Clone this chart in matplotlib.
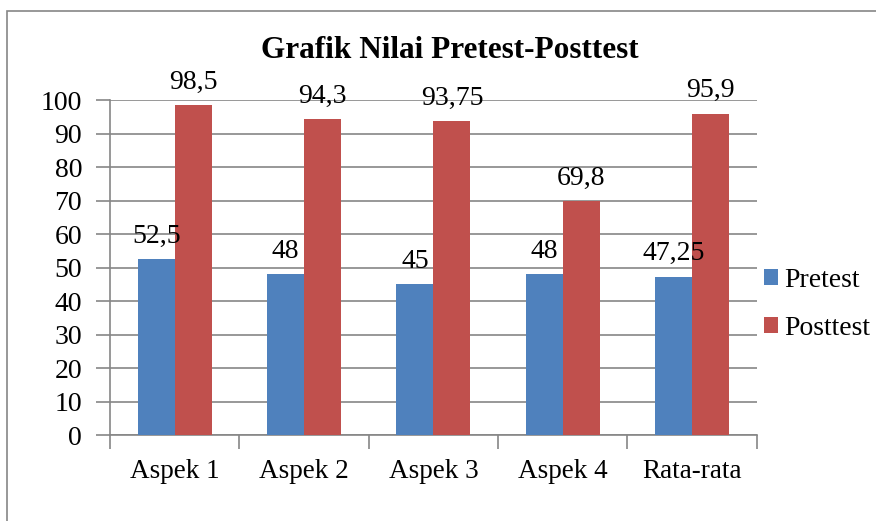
import numpy as np
import matplotlib
import matplotlib.pyplot as plt
from matplotlib import patches

matplotlib.use('Agg')

categories = ['Aspek 1', 'Aspek 2', 'Aspek 3', 'Aspek 4', 'Rata-rata']
pretest = [52.5, 48, 45, 48, 47.25]
posttest = [98.5, 94.3, 93.75, 69.8, 95.9]
series_names = ['Pretest', 'Posttest']

blue = '#4F81BD'
red = '#C0504D'
grid_col = '#868686'

plt.rcParams['font.family'] = ['Liberation Serif', 'DejaVu Serif']


def fmt(v):
    return f"{v:g}".replace('.', ',')


fig = plt.figure(figsize=(8.76, 5.21), dpi=100)
ax = fig.add_axes([0.1256, 0.165, 0.7384, 0.643])

# outer chart border
fig.patches.append(patches.Rectangle((0.008, -0.05), 1.1, 1.029, transform=fig.transFigure,
                                     fill=False, edgecolor=grid_col, linewidth=1.2))

x = np.arange(len(categories))
w = 0.286
b1 = ax.bar(x - w / 2, pretest, w, color=blue, label=series_names[0], zorder=3)
b2 = ax.bar(x + w / 2, posttest, w, color=red, label=series_names[1], zorder=3)

for bars, vals in ((b1, pretest), (b2, posttest)):
    for r, v in zip(bars, vals):
        ax.annotate(fmt(v), (r.get_x() + r.get_width() / 2, v), xytext=(0, 7.5),
                    textcoords='offset points', ha='center', va='bottom', fontsize=20)

ax.set_xlim(-0.5, len(categories) - 0.5)
ax.set_ylim(0, 100)
ax.set_yticks(range(0, 101, 10))
ax.yaxis.grid(True, color=grid_col, linewidth=1.2, zorder=0)
ax.set_axisbelow(True)

ax.set_xticks(x)
ax.set_xticklabels(categories, fontsize=19.5)
ax.set_xticks(np.arange(-0.5, len(categories), 1), minor=True)
ax.tick_params(axis='x', which='major', length=0, pad=17)
ax.tick_params(axis='x', which='minor', length=10, width=1.2, color=grid_col, direction='out')
ax.tick_params(axis='y', length=10, width=1.2, color=grid_col, labelsize=20, pad=10)

for s in ('top', 'right'):
    ax.spines[s].set_visible(False)
for s in ('left', 'bottom'):
    ax.spines[s].set_color(grid_col)
    ax.spines[s].set_linewidth(1.2)

fig.text(0.514, 0.903, 'Grafik Nilai Pretest-Posttest', ha='center', va='center',
         fontsize=22.5, fontweight='bold')

ax.legend(loc='center left', bbox_to_anchor=(0.972, 0.39), frameon=False, fontsize=20,
          handlelength=0.5, handleheight=0.5, handletextpad=0.25, labelspacing=0.85)

fig.savefig('out.png', dpi=100)
